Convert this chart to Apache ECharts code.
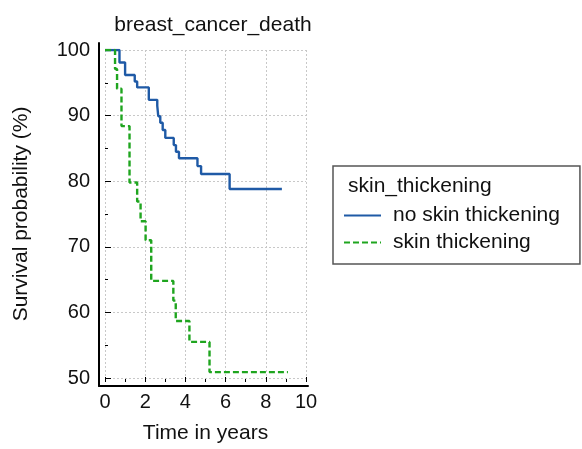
<!DOCTYPE html>
<html><head><meta charset="utf-8">
<script src="https://cdn.jsdelivr.net/npm/echarts@6/dist/echarts.min.js"></script>
<style>html,body{margin:0;padding:0;background:#fff}#c{width:582px;height:449px}</style>
</head><body><div id="c"></div>
<script>
// Kaplan-Meier step data
const noSkinTime = [0, 0.72, 1.0, 1.48, 1.6, 2.18, 2.6, 2.65, 2.75, 2.87, 3.0, 3.42, 3.53, 3.68, 4.6, 4.78, 6.2, 8.8];
const noSkinSurv = [100, 98.1, 96.2, 95.2, 94.3, 92.4, 91.5, 89.9, 88.9, 87.8, 86.6, 85.5, 84.5, 83.5, 82.3, 81.1, 78.8, 78.8];
const skinTime = [0, 0.5, 0.6, 0.82, 1.22, 1.6, 1.77, 2.02, 2.3, 3.4, 3.52, 4.2, 5.2, 9.1];
const skinSurv = [100, 97.1, 94.1, 88.4, 79.8, 76.9, 73.9, 71.0, 64.8, 61.8, 58.7, 55.5, 50.9, 50.9];
const xTicks = [0, 2, 4, 6, 8, 10];
const yTicks = [50, 60, 70, 80, 90, 100];
const seriesNames = ['no skin thickening', 'skin thickening'];
const legendTitle = 'skin_thickening';
const chartTitle = 'breast_cancer_death';
const xName = 'Time in years';
const yName = 'Survival probability (%)';

const FONT = 'Liberation Sans, Arial, sans-serif';
const zip = (a, b) => a.map((v, i) => [v, b[i]]);

const chart = echarts.init(document.getElementById('c'), null, {renderer: 'canvas'});
chart.setOption({
  animation: false,
  backgroundColor: '#fff',
  title: [{
    text: chartTitle, left: 208, top: 10, textAlign: 'center',
    textStyle: {fontFamily: FONT, fontSize: 21, fontWeight: 'normal', color: '#111'}
  }, {
    text: legendTitle, left: 343, top: 171,
    textStyle: {fontFamily: FONT, fontSize: 21, fontWeight: 'normal', color: '#111'}
  }],
  legend: {
    orient: 'vertical', left: 333, top: 166,
    padding: [39, 20, 11, 10],
    borderColor: '#555', borderWidth: 1.5,
    itemWidth: 37, itemHeight: 20, itemGap: 6,
    itemStyle: {opacity: 0},
    textStyle: {fontFamily: FONT, fontSize: 21, color: '#111', padding: [0, 0, 0, 7]},
    data: seriesNames
  },
  grid: [
    {left: 105, top: 50, width: 201, height: 332, containLabel: false},
    {left: 99, top: 43, width: 209, height: 343, containLabel: false}
  ],
  xAxis: [{
    gridIndex: 0, type: 'value', min: xTicks[0], max: xTicks[xTicks.length - 1], interval: 2,
    offset: 4,
    axisLine: {show: false},
    axisTick: {show: true, inside: true, length: 5, lineStyle: {color: '#000', width: 1}},
    minorTick: {show: true, splitNumber: 2, length: 3, lineStyle: {color: '#000'}},
    axisLabel: {fontFamily: FONT, fontSize: 20, color: '#111', margin: 10},
    splitLine: {show: true, lineStyle: {color: '#c8c8c8', type: [2, 2], width: 1}},
    name: xName, nameLocation: 'middle', nameGap: 41,
    nameTextStyle: {fontFamily: FONT, fontSize: 21, color: '#111'}
  }, {
    gridIndex: 1, type: 'value', min: 0, max: 1,
    axisLine: {show: true, onZero: false, lineStyle: {color: '#000', width: 2}},
    axisTick: {show: false}, axisLabel: {show: false}, splitLine: {show: false}
  }],
  yAxis: [{
    gridIndex: 0, type: 'value', min: yTicks[0], max: yTicks[yTicks.length - 1], interval: 10,
    offset: 6,
    axisLine: {show: false},
    axisTick: {show: true, inside: true, length: 6, lineStyle: {color: '#000', width: 1}},
    minorTick: {show: true, splitNumber: 2, length: 3, lineStyle: {color: '#000'}},
    axisLabel: {fontFamily: FONT, fontSize: 20, color: '#111', margin: 9},
    splitLine: {show: true, lineStyle: {color: '#c8c8c8', type: [2, 2], width: 1}},
    name: yName, nameLocation: 'middle', nameGap: 67, nameRotate: 90,
    nameTextStyle: {fontFamily: FONT, fontSize: 21, color: '#111'}
  }, {
    gridIndex: 1, type: 'value', min: 0, max: 1,
    axisLine: {show: true, onZero: false, lineStyle: {color: '#000', width: 2}},
    axisTick: {show: false}, axisLabel: {show: false}, splitLine: {show: false}
  }],
  series: [{
    name: seriesNames[0], type: 'line', step: 'end', xAxisIndex: 0, yAxisIndex: 0,
    data: zip(noSkinTime, noSkinSurv), symbol: 'none',
    lineStyle: {color: '#1f5aa6', width: 2.4}, itemStyle: {color: '#1f5aa6'}
  }, {
    name: seriesNames[1], type: 'line', step: 'end', xAxisIndex: 0, yAxisIndex: 0,
    data: zip(skinTime, skinSurv), symbol: 'none',
    lineStyle: {color: '#1fa51f', width: 2.4, type: [6, 3]}, itemStyle: {color: '#1fa51f'}
  }]
});
</script></body></html>
